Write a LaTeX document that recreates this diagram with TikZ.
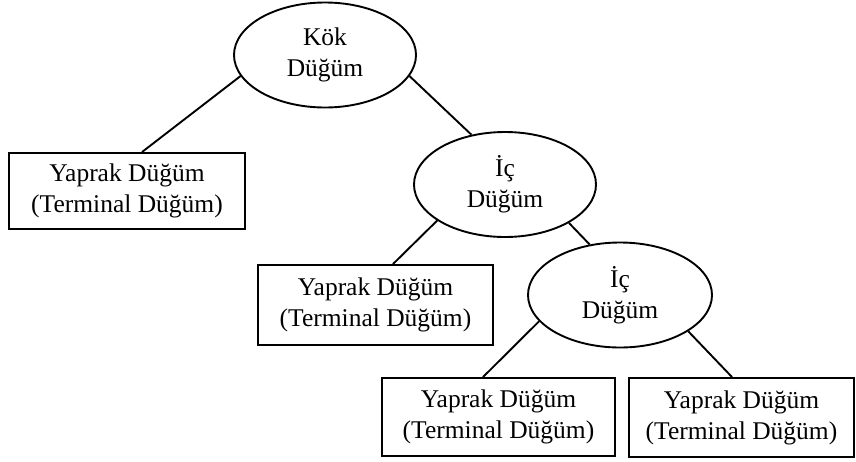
\documentclass[tikz,border=0pt]{standalone}
\usepackage{fontspec}
\setmainfont{Liberation Serif}
\usetikzlibrary{calc,shapes.geometric}

\tikzset{
  treenode/.style={draw, line width=1.9pt, inner sep=0pt, align=center,
    font=\fontsize{25.5}{31}\selectfont},
  inner/.style={treenode, ellipse, minimum width=182pt, minimum height=105pt},
  leaf/.style={treenode, rectangle},
  edge/.style={line width=1.9pt}
}

\begin{document}
\begin{tikzpicture}[x=1pt, y=-1pt]
  \useasboundingbox (0,0) rectangle (856,461);

  % internal nodes
  \node[inner] (kok) at (325,55)  {Kök\\Düğüm};
  \node[inner] (ic1) at (505,184.5) {İç\\Düğüm};
  \node[inner, minimum width=184pt] (ic2) at (620,295) {İç\\Düğüm};

  % leaves
  \node[leaf, minimum width=236pt, minimum height=76pt] (leaf1) at (127,191)
    {Yaprak Düğüm\\(Terminal Düğüm)};
  \node[leaf, minimum width=235pt, minimum height=80pt] (leaf2) at (375.5,305)
    {Yaprak Düğüm\\(Terminal Düğüm)};
  \node[leaf, minimum width=233pt, minimum height=78pt] (leaf3) at (498.5,417)
    {Yaprak Düğüm\\(Terminal Düğüm)};
  \node[leaf, minimum width=225pt, minimum height=79pt] (leaf4) at (741.5,417.5)
    {Yaprak Düğüm\\(Terminal Düğüm)};

  % branches
  \draw[edge] (kok.194) -- ($(leaf1.north)+(15,0)$);
  \draw[edge] (kok.-14) -- (ic1.124);
  \draw[edge] (ic1.208) -- ($(leaf2.north)+(17.5,0)$);
  \draw[edge] (ic1.-31) -- (ic2.121);
  \draw[edge] (ic2.198) -- ($(leaf3.north)+(-15.5,0)$);
  \draw[edge] (ic2.-28) -- ($(leaf4.north)+(-9.5,0)$);
\end{tikzpicture}
\end{document}
